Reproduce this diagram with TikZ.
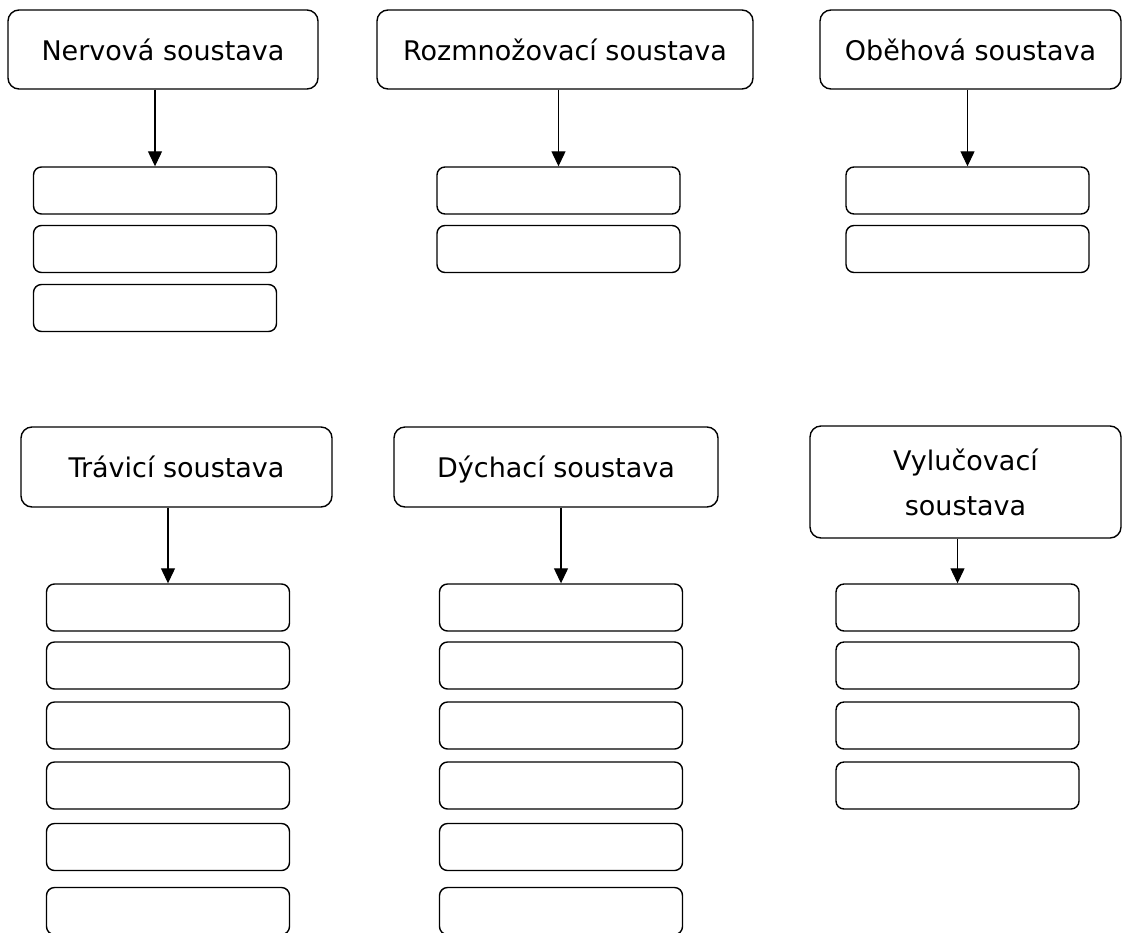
\documentclass[tikz,border=0pt]{standalone}
\usepackage{fontspec}
\setmainfont{DejaVu Sans}
\usetikzlibrary{arrows.meta}
\tikzset{
  head/.style={draw=black, line width=1.4pt, rounded corners=11pt, inner sep=0pt,
    font=\fontsize{27}{45}\selectfont, align=center, text depth=0pt},
  slot/.style={draw=black, line width=1.4pt, rounded corners=8pt, inner sep=0pt,
    minimum width=243pt, minimum height=47pt},
  link/.style={draw=black, line width=1.2pt, -{Triangle[width=14pt,length=15pt]}}
}
\begin{document}
\begin{tikzpicture}[x=1pt, y=-1pt]
\useasboundingbox (0,0) rectangle (1123,932);
\clip (0,0) rectangle (1123,932);
% top row headers
\node[head, minimum width=310pt, minimum height=79pt] (n1) at (163,49.5) {Nervová soustava};
\node[head, minimum width=376pt, minimum height=79pt] (n2) at (565,49.5) {Rozmnožovací soustava};
\node[head, minimum width=301pt, minimum height=79pt] (n3) at (970.5,49.5) {Oběhová soustava};
% top row slots
\node[slot] (a1) at (155,190.5) {};
\node[slot] (a2) at (155,249) {};
\node[slot] (a3) at (155,308) {};
\node[slot] (b1) at (558.5,190.5) {};
\node[slot] (b2) at (558.5,249) {};
\node[slot] (c1) at (967.5,190.5) {};
\node[slot] (c2) at (967.5,249) {};
% bottom row headers
\node[head, minimum width=311pt, minimum height=80pt] (m1) at (176.5,467) {Trávicí soustava};
\node[head, minimum width=324pt, minimum height=80pt] (m2) at (556,467) {Dýchací soustava};
\node[head, minimum width=311pt, minimum height=112pt] (m3) at (965.5,482) {Vylučovací\\soustava};
% bottom row slots
\foreach \i/\y in {1/607.5,2/665.5,3/725.5,4/785.5,5/847,6/911}{
  \node[slot] (d\i) at (168,\y) {};
  \node[slot] (e\i) at (561,\y) {};
}
\foreach \i/\y in {1/607.5,2/665.5,3/725.5,4/785.5}{
  \node[slot] (f\i) at (957.5,\y) {};
}
% connectors
\draw[link] (a1.north |- n1.south) -- (a1.north);
\draw[link] (b1.north |- n2.south) -- (b1.north);
\draw[link] (c1.north |- n3.south) -- (c1.north);
\draw[link] (d1.north |- m1.south) -- (d1.north);
\draw[link] (e1.north |- m2.south) -- (e1.north);
\draw[link] (f1.north |- m3.south) -- (f1.north);
\end{tikzpicture}
\end{document}
